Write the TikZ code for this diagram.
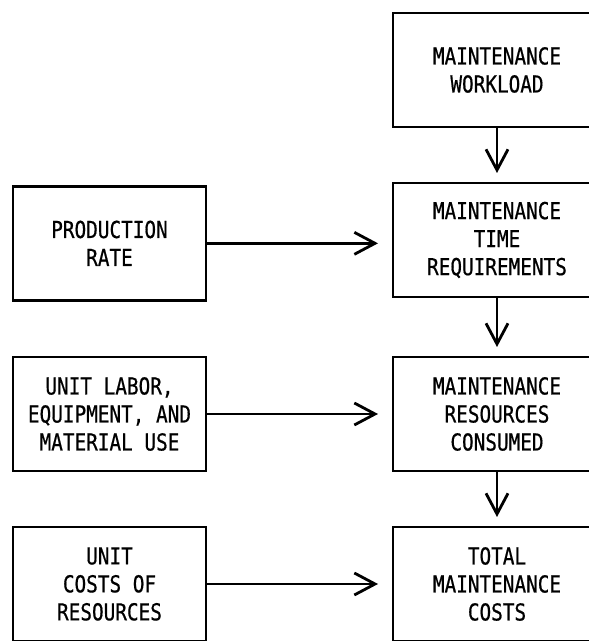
\documentclass[tikz,border=0pt]{standalone}
\usepackage{fontspec}
\usetikzlibrary{arrows.meta}
\newfontfamily\boxfont[FakeStretch=0.83,FakeBold=0.6]{DejaVu Sans Mono}
\begin{document}
\begin{tikzpicture}[
        block/.style={draw, line width=2.4pt, outer sep=0, inner sep=0, align=center, minimum width=5.79cm, minimum height=3.42cm, font=\boxfont\fontsize{19.9}{23.9}\selectfont},
        wide/.style={minimum width=6.24cm},
        flow/.style={line width=2.4pt, -{Straight Barb[length=0.62cm, width=0.66cm, line width=2.4pt]}}]
        \useasboundingbox (0,0) rectangle (17.64,19.23);
%%% Start right column
        \node[block, wide] (wl) at (14.91,17.13) {MAINTENANCE\\WORKLOAD};
        \draw (wl.south) node[block, wide, anchor=north, yshift=-1.68cm] (time) {MAINTENANCE\\TIME\\REQUIREMENTS};
        \draw (time.south) node[block, wide, anchor=north, yshift=-1.8cm] (res) {MAINTENANCE\\RESOURCES\\CONSUMED};
        \draw (res.south) node[block, wide, anchor=north, yshift=-1.68cm] (cost) {TOTAL\\MAINTENANCE\\COSTS};
%%% End right column
%%% Start left column
        \draw (time.west) node[block, anchor=east, xshift=-5.61cm, yshift=-0.1cm] (prod) {PRODUCTION\\RATE};
        \draw (res.west) node[block, anchor=east, xshift=-5.61cm] (labor) {UNIT LABOR,\\EQUIPMENT, AND\\MATERIAL USE};
        \draw (cost.west) node[block, anchor=east, xshift=-5.61cm] (ucost) {UNIT\\COSTS OF\\RESOURCES};
%%% End left column
%%% Start arrows
        \draw[flow, shorten >=0.3cm] (wl) -- (time);
        \draw[flow, shorten >=0.3cm] (time) -- (res);
        \draw[flow, shorten >=0.3cm] (res) -- (cost);
        \draw[flow, shorten >=0.45cm] (prod) -- (prod -| time.west);
        \draw[flow, shorten >=0.45cm] (labor) -- (labor -| res.west);
        \draw[flow, shorten >=0.45cm] (ucost) -- (ucost -| cost.west);
%%% End arrows
\end{tikzpicture}
\end{document}
